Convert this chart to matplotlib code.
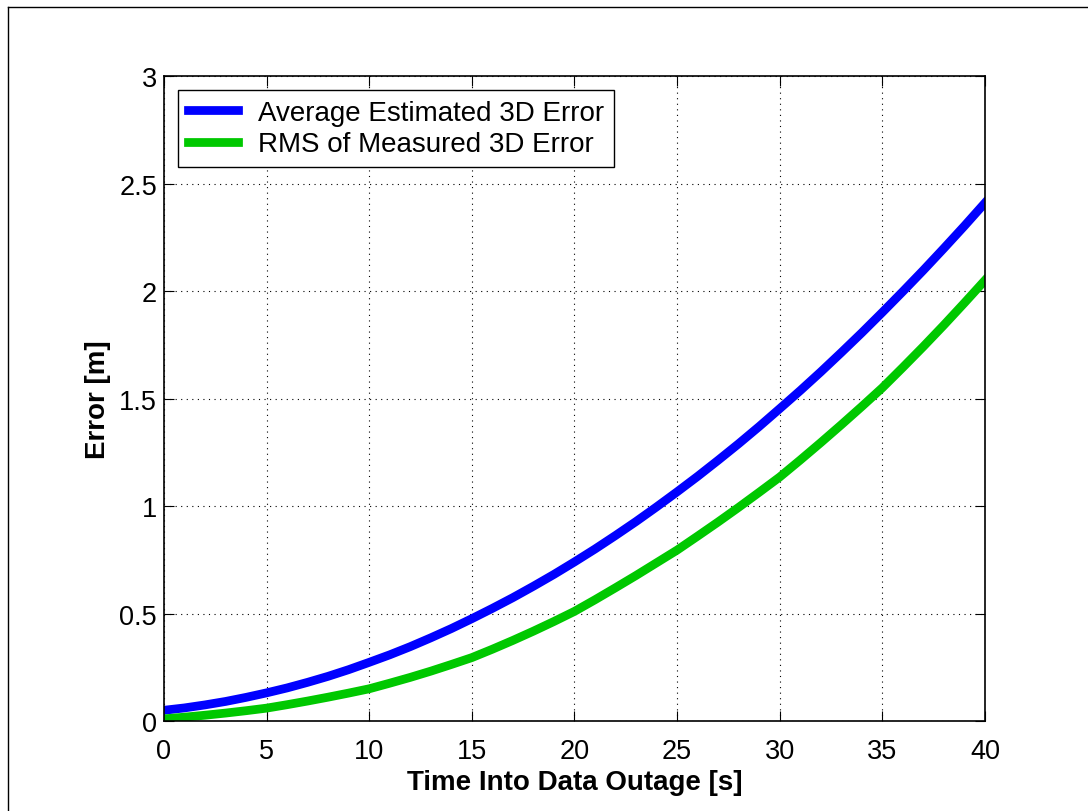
import numpy as np
import matplotlib
matplotlib.use("Agg")
import matplotlib.pyplot as plt
from matplotlib.lines import Line2D

# time into data outage [s]
t = list(range(0, 41))

# average estimated 3D error [m]
est_err = [0.050, 0.061, 0.075, 0.091, 0.110, 0.131, 0.154, 0.180, 0.208, 0.239,
           0.273, 0.308, 0.346, 0.387, 0.430, 0.476, 0.524, 0.574, 0.627, 0.682,
           0.740, 0.800, 0.863, 0.928, 0.996, 1.066, 1.138, 1.213, 1.290, 1.370,
           1.453, 1.537, 1.624, 1.714, 1.806, 1.901, 1.998, 2.097, 2.199, 2.303,
           2.410]

# RMS of measured 3D error [m]
rms_err = [0.010, 0.018, 0.027, 0.037, 0.048, 0.060, 0.076, 0.093, 0.111, 0.130,
           0.150, 0.176, 0.203, 0.232, 0.263, 0.295, 0.334, 0.375, 0.418, 0.463,
           0.510, 0.564, 0.620, 0.677, 0.736, 0.795, 0.860, 0.926, 0.994, 1.064,
           1.135, 1.214, 1.295, 1.378, 1.463, 1.550, 1.645, 1.742, 1.842, 1.945,
           2.050]

plt.rcParams['font.family'] = ['Liberation Sans', 'DejaVu Sans']

fig = plt.figure(figsize=(10.88, 8.12), dpi=100)
ax = fig.add_axes([0.1507, 0.1108, 0.7546, 0.7943])

ax.plot(t, est_err, color='#0000ff', lw=6.3, label='Average Estimated 3D Error')
ax.plot(t, rms_err, color='#00c800', lw=6.3, label='RMS of Measured 3D Error')

ax.set_xlim(0, 40)
ax.set_ylim(0, 3)
ax.set_xticks(np.arange(0, 41, 5))
ax.set_yticks(np.arange(0, 3.01, 0.5))
ax.set_yticklabels(['0', '0.5', '1', '1.5', '2', '2.5', '3'])
ax.grid(True, color='black', linestyle=(0, (1, 4)), linewidth=0.8)
ax.tick_params(direction='in', top=True, right=True, labelsize=19.5, length=7)
ax.tick_params(axis='x', pad=12)
ax.tick_params(axis='y', pad=5)
for s in ax.spines.values():
    s.set_linewidth(1.2)

ax.set_xlabel('Time Into Data Outage [s]', fontsize=20, fontweight='bold', labelpad=4)
ax.set_ylabel('Error [m]', fontsize=20, fontweight='bold', labelpad=6)

leg = ax.legend(loc='upper left', fontsize=20, fancybox=False, framealpha=1,
                edgecolor='black', handlelength=1.8, handletextpad=0.75,
                borderaxespad=0.5, labelspacing=0.2, borderpad=0.35)
leg.get_frame().set_linewidth(1.0)

# outer frame
fig.add_artist(Line2D([8/1088, 1.0], [1 - 8/812, 1 - 8/812], color='black', lw=1))
fig.add_artist(Line2D([8/1088, 8/1088], [0, 1 - 8/812], color='black', lw=1))

fig.savefig('out.png', dpi=100)
